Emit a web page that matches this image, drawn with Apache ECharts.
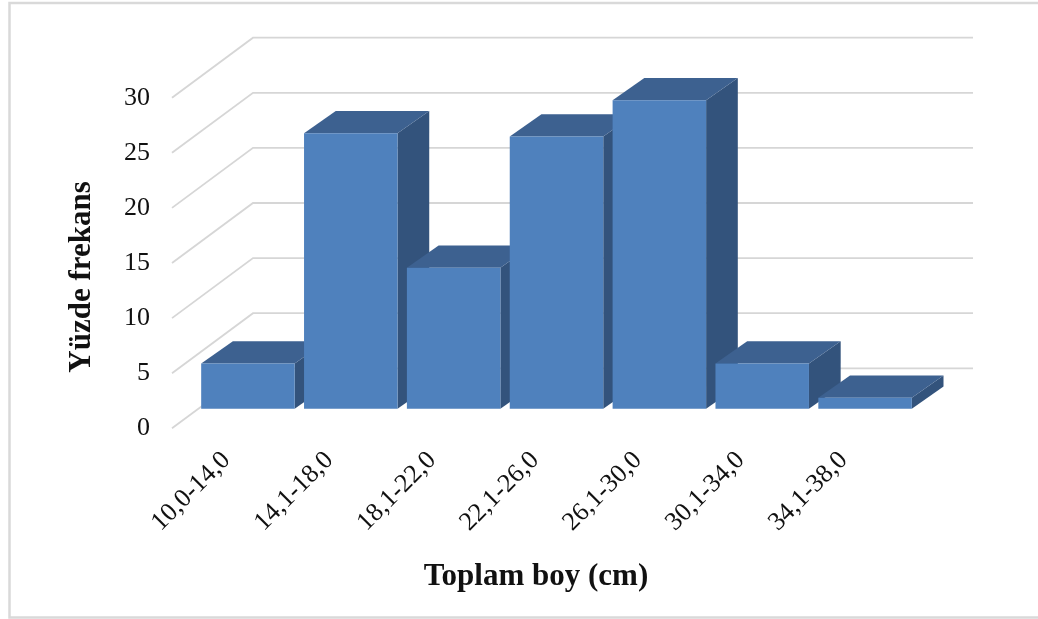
<!DOCTYPE html>
<html>
<head>
<meta charset="utf-8">
<script src="https://cdn.jsdelivr.net/npm/echarts@6/dist/echarts.min.js"></script>
<style>
  html, body { margin: 0; padding: 0; background: #fff; }
  #chart { width: 1038px; height: 619px; }
</style>
</head>
<body>
<div id="chart"></div>
<script>
// Length classes (cm) and their percentage frequencies
const categories = ['10,0-14,0', '14,1-18,0', '18,1-22,0', '22,1-26,0', '26,1-30,0', '30,1-34,0', '34,1-38,0'];
const percentages = [4.1, 25.0, 12.8, 24.7, 28.0, 4.1, 1.0];
const yTicks = [0, 5, 10, 15, 20, 25, 30];

// Oblique 3D look: offsets in pixels
const WALL = [81, -60];          // depth of the floor / back wall
const BAR_FRONT = [24.5, -19.5]; // bar front face, pushed into the floor
const BAR_DEPTH = [31.7, -22.3]; // depth of each column
const BAR_RATIO = 0.909;

const FRONT = '#4f81bd';
const TOP = '#3d6190';
const SIDE = '#33537c';
const GRID_COLOR = '#d6d6d6';
const SERIF = '"Liberation Serif", "Times New Roman", serif';

const chart = echarts.init(document.getElementById('chart'), null, { renderer: 'canvas' });

function renderWall(params, api) {
  const cs = params.coordSys;
  const y = api.coord([0, api.value(1)])[1];
  return {
    type: 'polyline',
    shape: {
      points: [
        [cs.x, y],
        [cs.x + WALL[0], y + WALL[1]],
        [cs.x + cs.width + WALL[0], y + WALL[1]]
      ]
    },
    style: { stroke: GRID_COLOR, lineWidth: 1.8, fill: null }
  };
}

function renderColumn(params, api) {
  const cat = api.value(0);
  const val = api.value(1);
  const base = api.coord([cat, 0]);
  const top = api.coord([cat, val]);
  const band = api.size([1, 0])[0];
  const w = band * BAR_RATIO;
  const xl = base[0] - w / 2 + BAR_FRONT[0];
  const xr = xl + w;
  const yb = base[1] + BAR_FRONT[1];
  const yt = top[1] + BAR_FRONT[1];
  const dx = BAR_DEPTH[0], dy = BAR_DEPTH[1];
  return {
    type: 'group',
    children: [
      {
        type: 'polygon',
        shape: { points: [[xr, yt], [xr + dx, yt + dy], [xr + dx, yb + dy], [xr, yb]] },
        style: { fill: SIDE }
      },
      {
        type: 'polygon',
        shape: { points: [[xl, yt], [xr, yt], [xr + dx, yt + dy], [xl + dx, yt + dy]] },
        style: { fill: TOP }
      },
      {
        type: 'rect',
        shape: { x: xl, y: yt, width: w, height: yb - yt },
        style: { fill: FRONT }
      }
    ]
  };
}

const gridTop = 97.7;
const gridHeight = 330.6;

const option = {
  animation: false,
  backgroundColor: '#ffffff',
  grid: [
    { left: 172, width: 720, top: gridTop, height: gridHeight },
    { left: 175, width: 720, top: gridTop, height: gridHeight }
  ],
  xAxis: [
    {
      type: 'category', gridIndex: 0, data: categories,
      axisLine: { show: false }, axisTick: { show: false },
      axisLabel: { show: false }, splitLine: { show: false }
    },
    {
      type: 'category', gridIndex: 1, data: categories,
      axisLine: { show: false }, axisTick: { show: false },
      splitLine: { show: false },
      axisLabel: {
        interval: 0, rotate: 45, margin: 28,
        fontFamily: SERIF, fontSize: 26, color: '#111'
      }
    }
  ],
  yAxis: [
    {
      type: 'value', gridIndex: 0, min: 0, max: 30, interval: 5,
      axisLine: { show: false }, axisTick: { show: false },
      splitLine: { show: false },
      axisLabel: { margin: 22, fontFamily: SERIF, fontSize: 26, color: '#111' }
    },
    {
      type: 'value', gridIndex: 1, min: 0, max: 30, show: false
    }
  ],
  series: [
    {
      type: 'custom',
      name: 'walls',
      xAxisIndex: 0, yAxisIndex: 0,
      z: 1,
      silent: true,
      renderItem: renderWall,
      data: yTicks.map(v => [0, v])
    },
    {
      type: 'custom',
      name: 'Yüzde frekans',
      xAxisIndex: 0, yAxisIndex: 0,
      z: 2,
      renderItem: renderColumn,
      encode: { x: 0, y: 1 },
      data: percentages.map((v, i) => [i, v])
    }
  ],
  graphic: [
    {
      type: 'rect',
      shape: { x: 9.5, y: 3, width: 1100, height: 614.5 },
      style: { fill: null, stroke: '#d9d9d9', lineWidth: 2.5 },
      silent: true
    },
    {
      type: 'text',
      x: 82, y: 277, rotation: Math.PI / 2,
      style: {
        text: 'Yüzde frekans', fontFamily: SERIF, fontSize: 31, fontWeight: 'bold',
        fill: '#111', align: 'center', verticalAlign: 'middle'
      }
    },
    {
      type: 'text',
      x: 536, y: 577,
      style: {
        text: 'Toplam boy (cm)', fontFamily: SERIF, fontSize: 31, fontWeight: 'bold',
        fill: '#111', align: 'center', verticalAlign: 'middle'
      }
    }
  ]
};

chart.setOption(option);
</script>
</body>
</html>
